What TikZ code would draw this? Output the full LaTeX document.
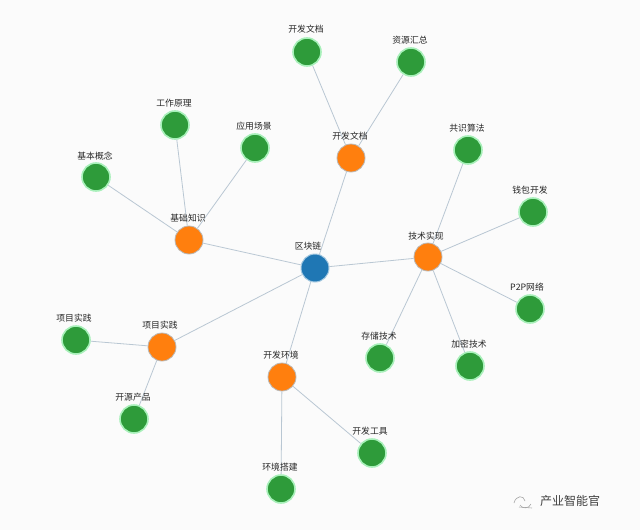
\documentclass[tikz,border=0pt]{standalone}
\usepackage{fontspec}
\setmainfont{Noto Sans CJK SC}
\definecolor{cgreen}{HTML}{2E9B3A}
\definecolor{cgreenglow}{HTML}{A8F0BA}
\definecolor{corange}{HTML}{FF7F0E}
\definecolor{cblue}{HTML}{1F77B4}
\definecolor{cedge}{HTML}{B9C7D3}
\definecolor{cbg}{HTML}{FBFBFB}
\begin{document}
\begin{tikzpicture}[x=1pt,y=-1pt,
  ball/.style={circle,minimum size=28pt,inner sep=0pt},
  leaf/.style={ball,fill=cgreen,draw=cgreenglow,line width=1.6pt},
  hub/.style={ball,fill=corange,draw=gray!55,line width=0.8pt},
  root/.style={ball,fill=cblue,draw=cblue!40,line width=1pt},
  lbl/.style={font=\fontsize{8.8}{9}\selectfont,text=black!85,inner sep=0pt},
  link/.style={draw=cedge,line width=0.8pt}]
\fill[cbg] (0,0) rectangle (640,530);
\useasboundingbox (0,0) rectangle (640,530);
% nodes
\node[root] (bc) at (315,268) {};
\node[hub] (jc) at (189,240) {};
\node[hub] (kfw) at (351,158) {};
\node[hub] (js) at (428,257) {};
\node[hub] (xm) at (162,347) {};
\node[hub] (hj) at (282,377) {};
\node[leaf] (wd) at (307,52) {};
\node[leaf] (zy) at (411,62) {};
\node[leaf] (gz) at (175,125) {};
\node[leaf] (yy) at (255,148) {};
\node[leaf] (jb) at (96,177) {};
\node[leaf] (gs) at (468,150) {};
\node[leaf] (qb) at (533,212) {};
\node[leaf] (p2) at (530,309) {};
\node[leaf] (cc) at (380,358) {};
\node[leaf] (jm) at (470,366) {};
\node[leaf] (xg) at (76,340) {};
\node[leaf] (ky) at (134,419) {};
\node[leaf] (gj) at (372,453) {};
\node[leaf] (dj) at (281,489) {};
% edges
\draw[link] (bc) -- (jc);
\draw[link] (bc) -- (kfw);
\draw[link] (bc) -- (js);
\draw[link] (bc) -- (xm);
\draw[link] (bc) -- (hj);
\draw[link] (jc) -- (gz);
\draw[link] (jc) -- (yy);
\draw[link] (jc) -- (jb);
\draw[link] (kfw) -- (wd);
\draw[link] (kfw) -- (zy);
\draw[link] (js) -- (gs);
\draw[link] (js) -- (qb);
\draw[link] (js) -- (p2);
\draw[link] (js) -- (cc);
\draw[link] (js) -- (jm);
\draw[link] (xm) -- (xg);
\draw[link] (xm) -- (ky);
\draw[link] (hj) -- (gj);
\draw[link] (hj) -- (dj);
% labels
\node[lbl] (lbc) at (308,246) {区块链};
\node[lbl] (ljc) at (188,218) {基础知识};
\node[lbl] (lkfw) at (350,136) {开发文档};
\node[lbl] (ljs) at (426,236) {技术实现};
\node[lbl] (lxm) at (160,325) {项目实践};
\node[lbl] (lhj) at (281,355) {开发环境};
\node[lbl] (lwd) at (306,29) {开发文档};
\node[lbl] (lzy) at (410,40) {资源汇总};
\node[lbl] (lgz) at (174,103) {工作原理};
\node[lbl] (lyy) at (254,126) {应用场景};
\node[lbl] (ljb) at (95,156) {基本概念};
\node[lbl] (lgs) at (467,128) {共识算法};
\node[lbl] (lqb) at (530,190) {钱包开发};
\node[lbl] (lp2) at (527,287) {P2P网络};
\node[lbl] (lcc) at (379,336) {存储技术};
\node[lbl] (ljm) at (469,344) {加密技术};
\node[lbl] (lxg) at (74,318) {项目实践};
\node[lbl] (lky) at (133,397) {开源产品};
\node[lbl] (lgj) at (370,431) {开发工具};
\node[lbl] (ldj) at (280,467) {环境搭建};
% watermark
\node[font=\fontsize{12}{13}\selectfont,text=black!75,anchor=west,inner sep=0pt] (wm) at (540,501) {产业智能官};
\coordinate (ic) at (522,501);
\draw[gray!70,line width=0.6pt] ([shift={(-8,2)}]ic) .. controls ([shift={(-6,-6)}]ic) and ([shift={(2,-6)}]ic) .. ([shift={(3,0)}]ic);
\draw[gray!70,line width=0.6pt] ([shift={(-2,4)}]ic) .. controls ([shift={(0,8)}]ic) and ([shift={(7,8)}]ic) .. ([shift={(9,3)}]ic);
\draw[gray!70,line width=0.6pt] ([shift={(-3,6)}]ic) -- ([shift={(10,7)}]ic);
\end{tikzpicture}
\end{document}
